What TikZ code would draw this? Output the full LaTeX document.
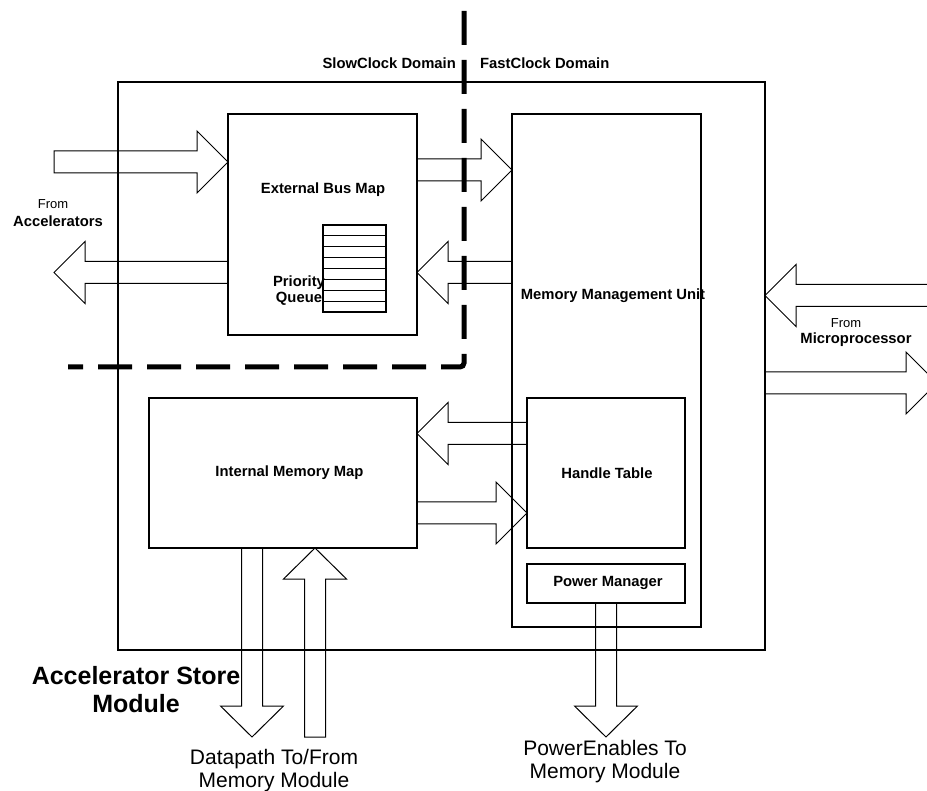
\documentclass[tikz,border=0pt]{standalone}
\usepackage{fontspec}
\setmainfont{Liberation Sans}
\usetikzlibrary{calc}
\tikzset{
  box/.style={draw, line width=1.2pt, inner sep=0pt, outer sep=0pt},
  barrow/.style={draw, line width=1pt, line join=miter},
  lbltext/.style={font=\fontsize{14.8}{16}\selectfont\bfseries, inner sep=0pt},
  fromtext/.style={font=\fontsize{13}{14}\selectfont, inner sep=0pt},
  bigtext/.style={font=\fontsize{25}{28}\selectfont\bfseries, inner sep=0pt},
  captext/.style={font=\fontsize{21}{23}\selectfont, inner sep=0pt},
  clockline/.style={line width=5pt, dash pattern=on 34pt off 15pt, rounded corners=4pt},
}
% horizontal block arrow: #1 tail, #2 tip, #3 optional closing
\newcommand{\hblock}[3]{%
  \draw[barrow] let \p1=(#1), \p2=(#2), \p3=($(#2)!31pt!(#1)$) in
    (\x1,{\y1+11pt}) -- (\x3,{\y1+11pt}) -- (\x3,{\y1+31pt}) -- (\x2,\y1)
    -- (\x3,{\y1-31pt}) -- (\x3,{\y1-11pt}) -- (\x1,{\y1-11pt}) #3;}
% vertical block arrow
\newcommand{\vblock}[3]{%
  \draw[barrow] let \p1=(#1), \p2=(#2), \p3=($(#2)!31pt!(#1)$) in
    ({\x1+10.5pt},\y1) -- ({\x1+10.5pt},\y3) -- ({\x1+31.5pt},\y3) -- (\x1,\y2)
    -- ({\x1-31.5pt},\y3) -- ({\x1-10.5pt},\y3) -- ({\x1-10.5pt},\y1) #3;}
\begin{document}
\begin{tikzpicture}[x=1pt,y=-1pt]
\useasboundingbox (0,0) rectangle (927,791);

% boxes
\node[box, minimum width=647pt, minimum height=568pt] (outer) at (441.5,366) {};
\node[box, minimum width=189pt, minimum height=221pt] (ebm) at (322.5,224.5) {};
\node[box, minimum width=189pt, minimum height=513pt] (mmu) at (606.5,370.5) {};
\node[box, minimum width=158pt, minimum height=150pt] (ht) at (606,473) {};
\node[box, minimum width=158pt, minimum height=39pt] (pm) at (606,583.5) {};
\node[box, minimum width=268pt, minimum height=150pt] (imm) at (283,473) {};
\node[box, minimum width=63pt, minimum height=87pt] (pq) at (354.5,268.5) {};
\foreach \i in {1,...,7}
  \draw[line width=1.2pt] ($(pq.north west)!\i/8!(pq.south west)$) -- ($(pq.north east)!\i/8!(pq.south east)$);

% clock domain boundary
\coordinate (dtop) at (464,11);
\coordinate (dcorner) at (464,367);
\coordinate (dend) at (68,367);
\draw[clockline] (dtop) -- (dcorner) -- (dend);

% labels
\node[lbltext, anchor=east] (slow) at (456,63) {SlowClock Domain};
\node[lbltext, anchor=west] (fast) at (480,63) {FastClock Domain};
\node[lbltext] (ebmt) at (323,190) {External Bus Map};
\node[lbltext, align=center] (pqt) at (299,291) {Priority\\Queue};
\node[lbltext] (mmut) at (613,296) {Memory Management Unit};
\node[lbltext] (htt) at (607,473) {Handle Table};
\node[lbltext] (pmt) at (608,583) {Power Manager};
\node[lbltext] (immt) at (289.5,473) {Internal Memory Map};
\node[fromtext] (accfrom) at (53,204) {From};
\node[lbltext] (acct) at (58,221) {Accelerators};
\node[fromtext] (upfrom) at (846,323) {From};
\node[lbltext] (upt) at (856,340) {Microprocessor};
\node[bigtext, align=center] (asm) at (136,690) {Accelerator Store\\Module};
\node[captext, align=center] (dpt) at (274,771) {Datapath To/From\\Memory Module};
\node[captext, align=center] (pet) at (605,762) {PowerEnables To\\Memory Module};

% arrow anchor coordinates
\coordinate (accin) at (54,162);
\coordinate (accout) at (54,272.5);
\coordinate (r3) at (0,170);
\coordinate (r4) at (0,272.5);
\coordinate (r5) at (0,433.5);
\coordinate (r6) at (0,513);
\coordinate (dpdown) at (252,737);
\coordinate (dpup) at (315,737);
\coordinate (pwr) at (606,737);
\coordinate (upin) at (945,295.5);
\coordinate (upout) at (937,383);

% block arrows
\hblock{accin}{accin -| ebm.west}{-- cycle}
\hblock{accout -| ebm.west}{accout}{}
\hblock{r3 -| ebm.east}{r3 -| mmu.west}{}
\hblock{r4 -| mmu.west}{r4 -| ebm.east}{}
\hblock{r5 -| ht.west}{r5 -| imm.east}{}
\hblock{r6 -| imm.east}{r6 -| ht.west}{}
\vblock{dpdown |- imm.south}{dpdown}{}
\vblock{dpup}{dpup |- imm.south}{-- cycle}
\vblock{pm.south}{pwr}{}
\hblock{upin}{upin -| outer.east}{}
\hblock{upout -| outer.east}{upout}{}
\end{tikzpicture}
\end{document}
